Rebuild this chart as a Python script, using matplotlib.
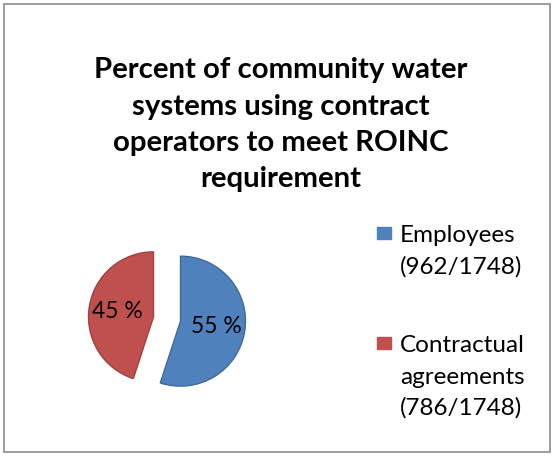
import matplotlib
matplotlib.use("Agg")
from matplotlib import pyplot as plt
from matplotlib.patches import Rectangle

W, H = 554, 457

title_lines = ["Percent of community water", "systems using contract",
               "operators to meet ROINC", "requirement"]
categories = [["Employees", "(962/1748)"],
              ["Contractual", "agreements", "(786/1748)"]]
counts = [962, 786]
colors = ["#4F81BD", "#C0504D"]
edge_colors = ["#41699a", "#9c4240"]

plt.rcParams["font.family"] = ["Lato", "DejaVu Sans"]


def px(x, y):
    return x / W, 1 - y / H


def main():
    fig = plt.figure(figsize=(W / 100, H / 100), dpi=100)

    # outer frame
    fig.patches.append(Rectangle(px(4, 452), 546 / W, 448 / H, transform=fig.transFigure,
                                 fill=False, edgecolor="#8c8c8c", linewidth=1.2))

    # title, one line at a time
    baselines = [78, 114.5, 151, 187.5]
    for line, yb in zip(title_lines, baselines):
        fig.text(*px(281, yb), line, ha="center", va="baseline",
                 fontsize=21.2, fontweight="bold", color="black")

    # pie
    r_px = 65
    span = 2.8
    cx, cy = 167, 319
    size = span * r_px
    ax = fig.add_axes([(cx - size / 2) / W, (H - cy - size / 2) / H, size / W, size / H])
    wedges, texts, autotexts = ax.pie(
        counts, colors=colors, startangle=90, counterclock=False,
        explode=[0.21, 0.21], autopct=lambda p: "{:.0f} %".format(p),
        pctdistance=0.56, textprops={"fontsize": 16.5, "color": "black"},
        wedgeprops={"linewidth": 1.0})
    for w, ec in zip(wedges, edge_colors):
        w.set_edgecolor(ec)
    ax.set_xlim(-span / 2, span / 2)
    ax.set_ylim(-span / 2, span / 2)
    ax.set_aspect("equal")
    ax.axis("off")

    # legend drawn by hand, one text line at a time
    first_baselines = [242, 352]
    step = 31.5
    for lines, color, yb in zip(categories, colors, first_baselines):
        fig.patches.append(Rectangle(px(377, yb - 3), 14 / W, 12 / H,
                                     transform=fig.transFigure, color=color))
        for i, line in enumerate(lines):
            fig.text(*px(400, yb + i * step), line, ha="left", va="baseline",
                     fontsize=17.5, color="black")

    fig.savefig("out.png", dpi=100)


if __name__ == "__main__":
    main()
